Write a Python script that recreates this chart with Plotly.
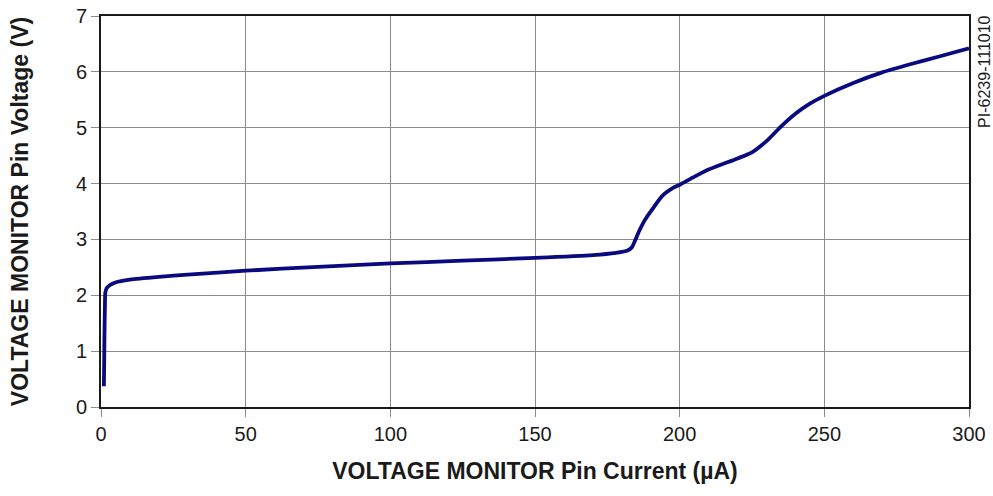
import plotly.graph_objects as go

current_uA = [1.0, 1.1, 1.2, 1.35, 1.5, 2, 3, 5, 10, 20, 30, 50, 75, 100, 125, 150, 170, 178, 182,
              183.5, 184.5, 186, 188, 190, 194, 198, 200, 205, 210, 220, 225, 230, 235, 240, 245,
              250, 260, 270, 280, 290, 300]
voltage_V = [0.37, 0.8, 1.3, 1.8, 2.05, 2.13, 2.18, 2.23, 2.28, 2.33, 2.37, 2.44, 2.51, 2.57, 2.62, 2.67, 2.72, 2.76, 2.8,
             2.86, 2.97, 3.15, 3.35, 3.5, 3.78, 3.93, 3.98, 4.12, 4.25, 4.45, 4.56, 4.76, 5.02, 5.25, 5.43,
             5.57, 5.8, 5.99, 6.14, 6.28, 6.42]

x_ticks = [0, 50, 100, 150, 200, 250, 300]
y_ticks = [0, 1, 2, 3, 4, 5, 6, 7]

FONT = "Liberation Sans, Arial, Helvetica"

fig = go.Figure()
fig.add_trace(go.Scatter(x=current_uA, y=voltage_V, mode="lines",
                         line=dict(color="#0a0a80", width=3.8, shape="spline", smoothing=0.6),
                         showlegend=False, hoverinfo="skip"))

axis_common = dict(showgrid=True, gridcolor="#8c8c8c", gridwidth=1.2,
                   showline=True, linecolor="#1a1a1a", linewidth=2, mirror=True,
                   ticks="outside", ticklen=8, tickcolor="#8c8c8c", tickwidth=1.2,
                   zeroline=False, automargin=False,
                   tickfont=dict(family=FONT, size=20, color="#1a1a1a"))

fig.update_layout(
    width=993, height=496,
    margin=dict(l=101, r=24, t=16, b=89, autoexpand=False),
    paper_bgcolor="white", plot_bgcolor="white",
    xaxis=dict(range=[0, 300], tickvals=x_ticks,
               title=dict(text="<b>VOLTAGE MONITOR Pin Current (µA)</b>", standoff=19,
                          font=dict(family=FONT, size=23, color="#1a1a1a")),
               **axis_common),
    yaxis=dict(range=[0, 7], tickvals=y_ticks,
               title=dict(text="<b>VOLTAGE MONITOR Pin Voltage (V)</b>", standoff=41,
                          font=dict(family=FONT, size=23, color="#1a1a1a")),
               **axis_common),
    annotations=[dict(text="PI-6239-111010", xref="paper", yref="paper", x=1.0184, y=0.857,
                      xanchor="center", yanchor="middle", textangle=-90, showarrow=False,
                      font=dict(family=FONT, size=16, color="#1a1a1a"))],
)

fig.write_html("out.html", config={"displayModeBar": False},
               post_script="document.body.style.margin='0';document.body.style.overflow='hidden';")
